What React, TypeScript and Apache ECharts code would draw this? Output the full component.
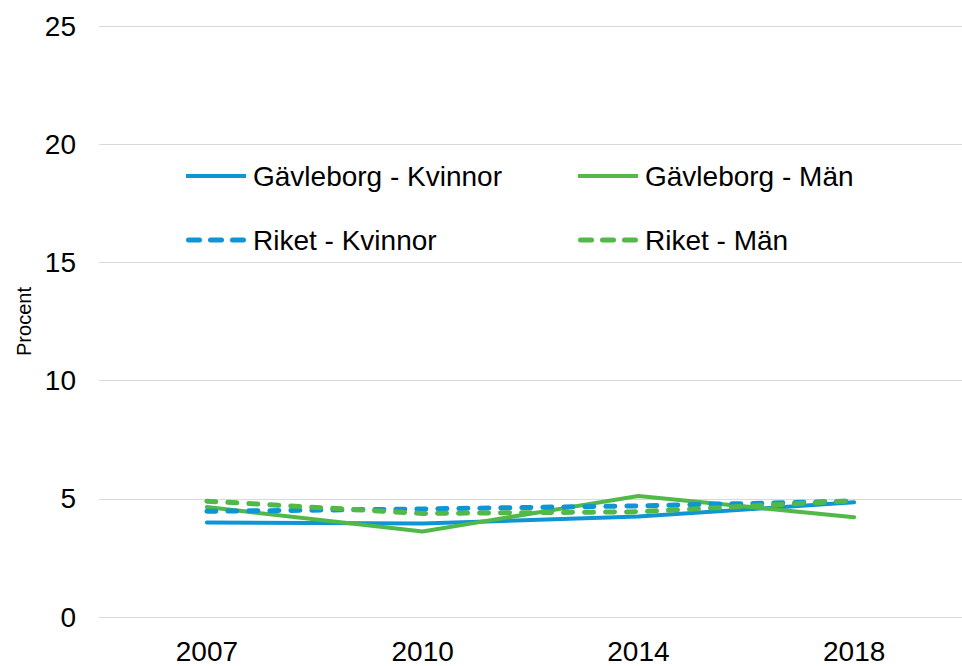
import React, { useEffect, useRef } from "react";
import * as echarts from "echarts";

const years = ["2007", "2010", "2014", "2018"];
const gavleborgKvinnor = [4.0, 3.95, 4.25, 4.85];
const gavleborgMan = [4.65, 3.62, 5.12, 4.22];
const riketKvinnor = [4.47, 4.57, 4.7, 4.9];
const riketMan = [4.9, 4.38, 4.45, 4.92];

const BLUE = "#0e96d4";
const GREEN = "#52b848";
const FONT = "'Liberation Sans', Arial, sans-serif";

const SOLID_ICON = "path://M0,0H60V4H0Z";
const dash = (x: number) =>
  `M${x + 2.5},0H${x + 13.5}A2.5,2.5 0 0 1 ${x + 13.5},5H${x + 2.5}A2.5,2.5 0 0 1 ${x + 2.5},0Z`;
const DASH_ICON = "path://" + dash(0) + dash(22) + dash(44);

export default function App() {
  const ref = useRef<HTMLDivElement>(null);
  useEffect(() => {
    if (!ref.current) return;
    const chart = echarts.init(ref.current, undefined, { renderer: "svg" });
    const legendBase = (name: string, left: number, top: number, dashed: boolean) => ({
      data: [{ name, icon: dashed ? DASH_ICON : SOLID_ICON }],
      left,
      top,
      padding: 0,
      itemWidth: 60,
      itemHeight: dashed ? 5 : 4,
      textStyle: { fontSize: 28, color: "#000", fontFamily: FONT, padding: [0, 0, 0, 2] },
    });
    const dashed = [9, 12];
    chart.setOption({
      animation: false,
      textStyle: { fontFamily: FONT },
      grid: { left: 99, right: -7, top: 26, bottom: 49, containLabel: false },
      legend: [
        legendBase("Gävleborg - Kvinnor", 186, 162, false),
        legendBase("Gävleborg - Män", 578, 162, false),
        legendBase("Riket - Kvinnor", 186, 226, true),
        legendBase("Riket - Män", 578, 226, true),
      ],
      xAxis: {
        type: "category",
        data: years,
        boundaryGap: true,
        axisLine: { show: true, lineStyle: { color: "#d9d9d9", width: 1 } },
        axisTick: { show: false },
        axisLabel: { fontSize: 28, color: "#000", margin: 20, fontFamily: FONT },
      },
      yAxis: {
        type: "value",
        min: 0,
        max: 25,
        interval: 5,
        name: "Procent",
        nameLocation: "middle",
        nameGap: 65,
        nameRotate: 90,
        nameTextStyle: { fontSize: 20, color: "#000", fontFamily: FONT },
        axisLine: { show: false },
        axisTick: { show: false },
        axisLabel: { fontSize: 28, color: "#000", margin: 23, fontFamily: FONT },
        splitLine: { lineStyle: { color: "#d9d9d9", width: 1 } },
      },
      series: [
        {
          name: "Gävleborg - Kvinnor",
          type: "line",
          data: gavleborgKvinnor,
          symbol: "none",
          lineStyle: { color: BLUE, width: 4, cap: "round" },
          itemStyle: { color: BLUE },
        },
        {
          name: "Gävleborg - Män",
          type: "line",
          data: gavleborgMan,
          symbol: "none",
          lineStyle: { color: GREEN, width: 4, cap: "round" },
          itemStyle: { color: GREEN },
        },
        {
          name: "Riket - Kvinnor",
          type: "line",
          data: riketKvinnor,
          symbol: "none",
          lineStyle: { color: BLUE, width: 5, type: dashed, cap: "round" },
          itemStyle: { color: BLUE },
        },
        {
          name: "Riket - Män",
          type: "line",
          data: riketMan,
          symbol: "none",
          lineStyle: { color: GREEN, width: 5, type: dashed, cap: "round" },
          itemStyle: { color: GREEN },
        },
      ],
    });
    return () => chart.dispose();
  }, []);
  return <div ref={ref} style={{ width: 962, height: 666, position: "absolute", left: 0, top: 0 }} />;
}
